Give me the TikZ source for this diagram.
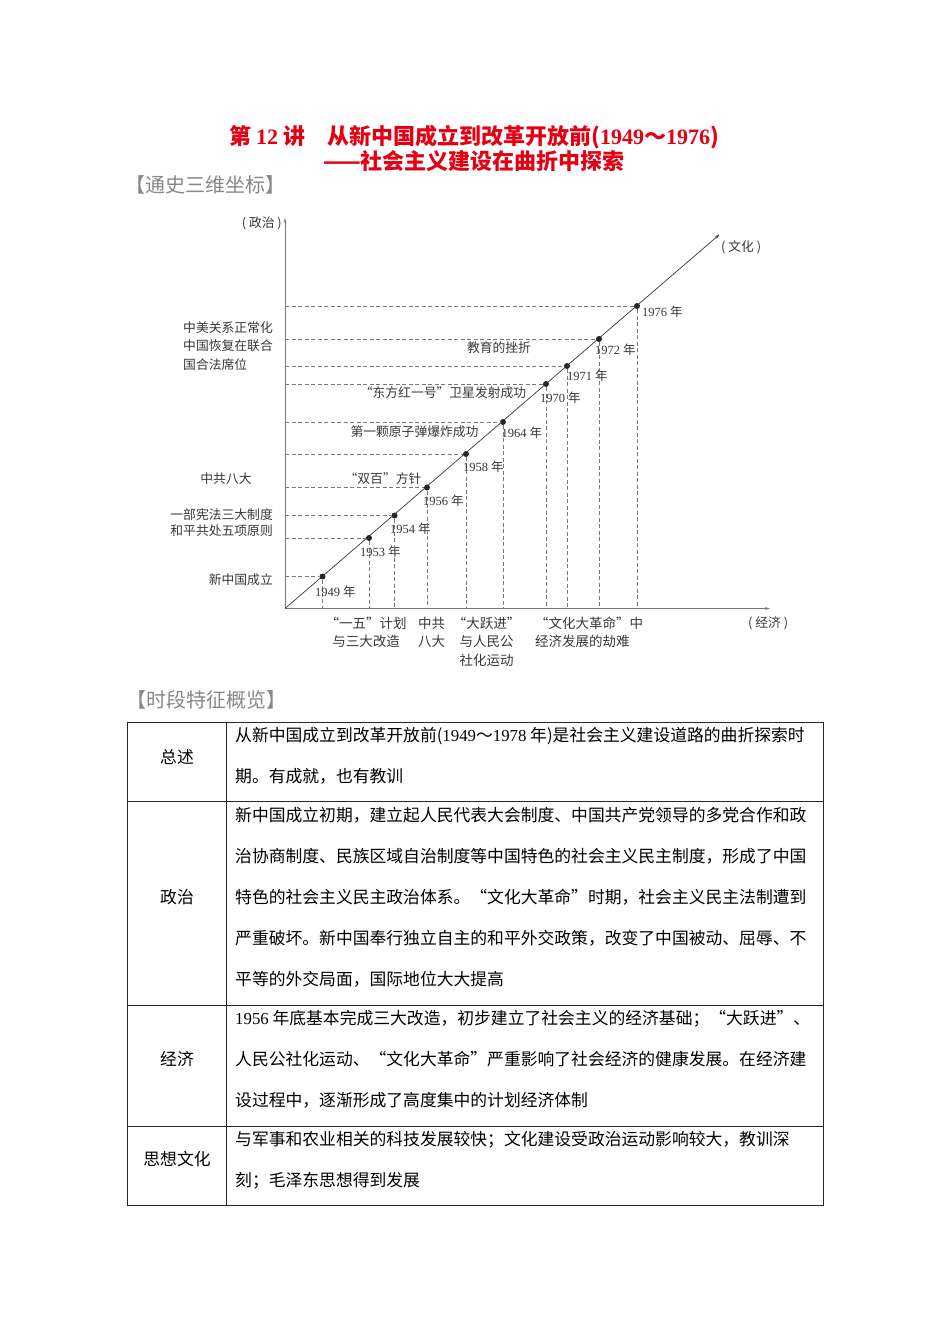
\documentclass[tikz,border=0pt]{standalone}
\usepackage{fontspec}
\setmainfont{Noto Sans CJK SC}
\newfontfamily\latin{Liberation Serif}
\usetikzlibrary{arrows.meta}

\definecolor{titleRed}{RGB}{228,0,18}
\definecolor{headGray}{RGB}{135,135,135}
\definecolor{inkGray}{RGB}{55,55,55}
\definecolor{axisGray}{RGB}{120,120,120}

\begin{document}
\begin{tikzpicture}
[x=1pt,y=-1pt,
  axisDecorate/.style={-{Stealth[length=5pt,width=3pt]},axisGray,line width=0.8pt},
  diagDecorate/.style={-{Stealth[length=5pt,width=3pt]},inkGray,line width=0.7pt},
  dashDecorate/.style={axisGray,dash pattern=on 4pt off 2.5pt,line width=0.6pt},
  dotDecorate/.style={shape=circle,fill=black!85,inner sep=0pt,minimum size=6pt},
  yearDecorate/.style={anchor=west,inner sep=0pt,inkGray,font=\fontsize{12.5}{14}\selectfont},
  textDecorate/.style={inner sep=0pt,inkGray,font=\fontsize{12.8}{18.5}\selectfont},
  footDecorate/.style={inner sep=0pt,inkGray,align=center,font=\fontsize{13.5}{18.5}\selectfont},
  cellDecorate/.style={anchor=base west,inner sep=0pt,font=\fontsize{16.8}{20}\selectfont},
  headDecorate/.style={inner sep=0pt,headGray,font=\fontsize{20}{22}\selectfont},
  titleDecorate/.style={inner sep=0pt,titleRed,font=\bfseries\fontsize{22}{24}\selectfont},
  tableDecorate/.style={black!85,line width=0.9pt}]
\useasboundingbox (0,0) rectangle (950,1344);

%% title and headings
\node (title) at (474,137) [titleDecorate] {第 {\latin 12} 讲　从新中国成立到改革开放前({\latin 1949}～{\latin 1976})};
\node (subtitle) at (474,161) [titleDecorate] {——社会主义建设在曲折中探索};
\node (headAxes) at (205,185) [headDecorate] {【通史三维坐标】};
\node (headTable) at (206,700) [headDecorate] {【时段特征概览】};

%% axes
\coordinate (O) at (285,608.5);
\coordinate (polTop) at (285,218);
\coordinate (ecoEnd) at (770,608.5);
\coordinate (culEnd) at (719.5,234.5);
\draw[axisDecorate] (O) -- (polTop);
\draw[axisDecorate] (O) -- (ecoEnd);
\draw[diagDecorate] (O) -- (culEnd);
\node (polLabel) at (282,223) [textDecorate,anchor=east] {( 政治 )};
\node (culLabel) at (721,247) [textDecorate,anchor=west] {( 文化 )};
\node (ecoLabel) at (748,623) [textDecorate,anchor=west] {( 经济 )};

%% years on the diagonal
\foreach \name/\x/\y/\dx/\dy in {
  1949/322.5/576.5/-7.5/15, 1953/369/538/-9/14, 1954/394.5/515.5/-4.5/13,
  1956/427/487.5/-4/13, 1958/466/454/-3/13, 1964/503/422/-1.5/11,
  1970/546/384/-6/14, 1971/567/366/0/10, 1972/599/339/-4/11, 1976/637/306/5/6}
{
  \node (d\name) at (\x,\y) [dotDecorate] {};
  \draw[dashDecorate] (O |- d\name) -- (d\name) -- (d\name |- O);
  \node (y\name) at ([shift={(\dx,\dy)}]d\name) [yearDecorate] {{\latin\name} 年};
}

%% politics side
\node (usChina) at (183,345.7) [textDecorate,anchor=west,align=left] {中美关系正常化\\中国恢复在联合\\国合法席位};
\node (eighth) at (226,479) [textDecorate] {中共八大};
\node (constitution) at (273,523) [textDecorate,anchor=east,align=left,font=\fontsize{12.8}{16}\selectfont] {一部宪法三大制度\\和平共处五项原则};
\node (founding) at (273,580) [textDecorate,anchor=east] {新中国成立};

%% culture along the diagonal
\node (eduSetback) at (499,348) [textDecorate] {教育的挫折};
\node (satellite) at (443,393) [textDecorate] {“东方红一号”卫星发射成功};
\node (atomBomb) at (414.5,432) [textDecorate] {第一颗原子弹爆炸成功};
\node (doubleHundred) at (383,479) [textDecorate] {“双百”方针};

%% economy side
\node (fiveYear) at (366,632.3) [footDecorate] {“一五”计划\\与三大改造};
\node (eighthEco) at (431.5,632.3) [footDecorate] {中共\\八大};
\node (leap) at (486.5,641.7) [footDecorate] {“大跃进”\\与人民公\\社化运动};
\node (culturalRev) at (535,632.3) [footDecorate,anchor=west,align=left] {“文化大革命”中\\经济发展的劫难};

%% table
\draw[tableDecorate] (127,722) rectangle (823,1205.5);
\foreach \y in {801,1005,1126}
  \draw[tableDecorate] (127,\y) -- (823,\y);
\draw[tableDecorate] (226,722) -- (226,1205.5);

\foreach \name/\y/\txt in {summary/757/总述, politics/897/政治, economy/1059/经济, thought/1159/思想文化}
  \node (\name) at (177,\y) [cellDecorate,anchor=center] {\txt};

\foreach \txt [count=\i from 0] in {
  {从新中国成立到改革开放前({\latin 1949}～{\latin 1978} 年)是社会主义建设道路的曲折探索时},
  {期。有成就，也有教训}}
  \node (sumLine\i) at (235,{741.5+41*\i}) [cellDecorate] {\txt};

\foreach \txt [count=\i from 0] in {
  {新中国成立初期，建立起人民代表大会制度、中国共产党领导的多党合作和政},
  {治协商制度、民族区域自治制度等中国特色的社会主义民主制度，形成了中国},
  {特色的社会主义民主政治体系。“文化大革命”时期，社会主义民主法制遭到},
  {严重破坏。新中国奉行独立自主的和平外交政策，改变了中国被动、屈辱、不},
  {平等的外交局面，国际地位大大提高}}
  \node (polLine\i) at (235,{821.5+41*\i}) [cellDecorate] {\txt};

\foreach \txt [count=\i from 0] in {
  {{\latin 1956} 年底基本完成三大改造，初步建立了社会主义的经济基础；“大跃进”、},
  {人民公社化运动、“文化大革命”严重影响了社会经济的健康发展。在经济建},
  {设过程中，逐渐形成了高度集中的计划经济体制}}
  \node (ecoLine\i) at (235,{1024.5+41*\i}) [cellDecorate] {\txt};

\foreach \txt [count=\i from 0] in {
  {与军事和农业相关的科技发展较快；文化建设受政治运动影响较大，教训深},
  {刻；毛泽东思想得到发展}}
  \node (thoLine\i) at (235,{1145.5+41*\i}) [cellDecorate] {\txt};
\end{tikzpicture}
\end{document}
